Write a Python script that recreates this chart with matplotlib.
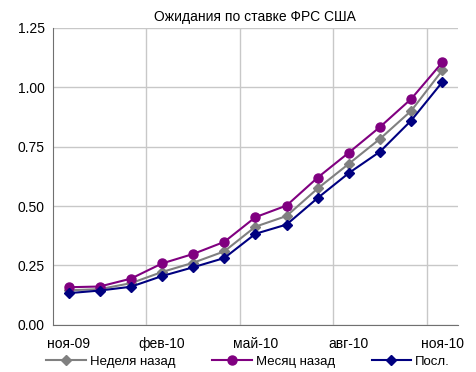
import matplotlib
matplotlib.use("Agg")
import matplotlib.pyplot as plt

plt.rcParams['font.family'] = ['Liberation Sans', 'DejaVu Sans']

months = ["ноя-09", "дек-09", "янв-10", "фев-10", "мар-10", "апр-10", "май-10",
          "июн-10", "июл-10", "авг-10", "сен-10", "окт-10", "ноя-10"]
week_ago = [0.145, 0.150, 0.175, 0.222, 0.261, 0.309, 0.413, 0.458, 0.574, 0.678, 0.783, 0.901, 1.071]
month_ago = [0.158, 0.161, 0.194, 0.258, 0.298, 0.349, 0.453, 0.502, 0.620, 0.725, 0.833, 0.951, 1.105]
latest = [0.133, 0.144, 0.160, 0.205, 0.242, 0.281, 0.383, 0.422, 0.534, 0.639, 0.729, 0.860, 1.022]

fig = plt.figure(figsize=(4.77, 3.72), dpi=100)
ax = fig.add_axes([0.111, 0.127, 0.849, 0.798])

x = list(range(len(months)))
ax.plot(x, week_ago, color='#808080', marker='D', markersize=5, lw=1.5, label='Неделя назад')
ax.plot(x, month_ago, color='#800080', marker='o', markersize=6.5, lw=1.5, label='Месяц назад')
ax.plot(x, latest, color='#000080', marker='D', markersize=5, lw=1.5, label='Посл.')

ax.set_xlim(-0.5, len(months) - 0.5)
ax.set_ylim(0, 1.25)
ax.set_yticks([0, 0.25, 0.5, 0.75, 1.0, 1.25])
ax.set_yticklabels(['0.00', '0.25', '0.50', '0.75', '1.00', '1.25'])
ax.set_xticks(x[::3])
ax.set_xticklabels(months[::3])
ax.tick_params(axis='both', length=0, labelsize=10, pad=6)
ax.tick_params(axis='x', pad=9)

for b in [2.5, 5.5, 8.5, 11.5]:
    ax.axvline(b, color='#c8c8c8', lw=1, zorder=0)
ax.yaxis.grid(True, color='#c8c8c8', lw=1, zorder=0)
ax.set_axisbelow(True)

for s in ['top', 'right']:
    ax.spines[s].set_visible(False)
for s in ['left', 'bottom']:
    ax.spines[s].set_color('#707070')

ax.set_title('Ожидания по ставке ФРС США', fontsize=10, pad=5)

fig.legend(loc='center', bbox_to_anchor=(0.52, 0.027), ncol=3, frameon=False,
           fontsize=9.5, handlelength=3, columnspacing=2.8, handletextpad=0.3)

fig.savefig('out.png', dpi=100)
